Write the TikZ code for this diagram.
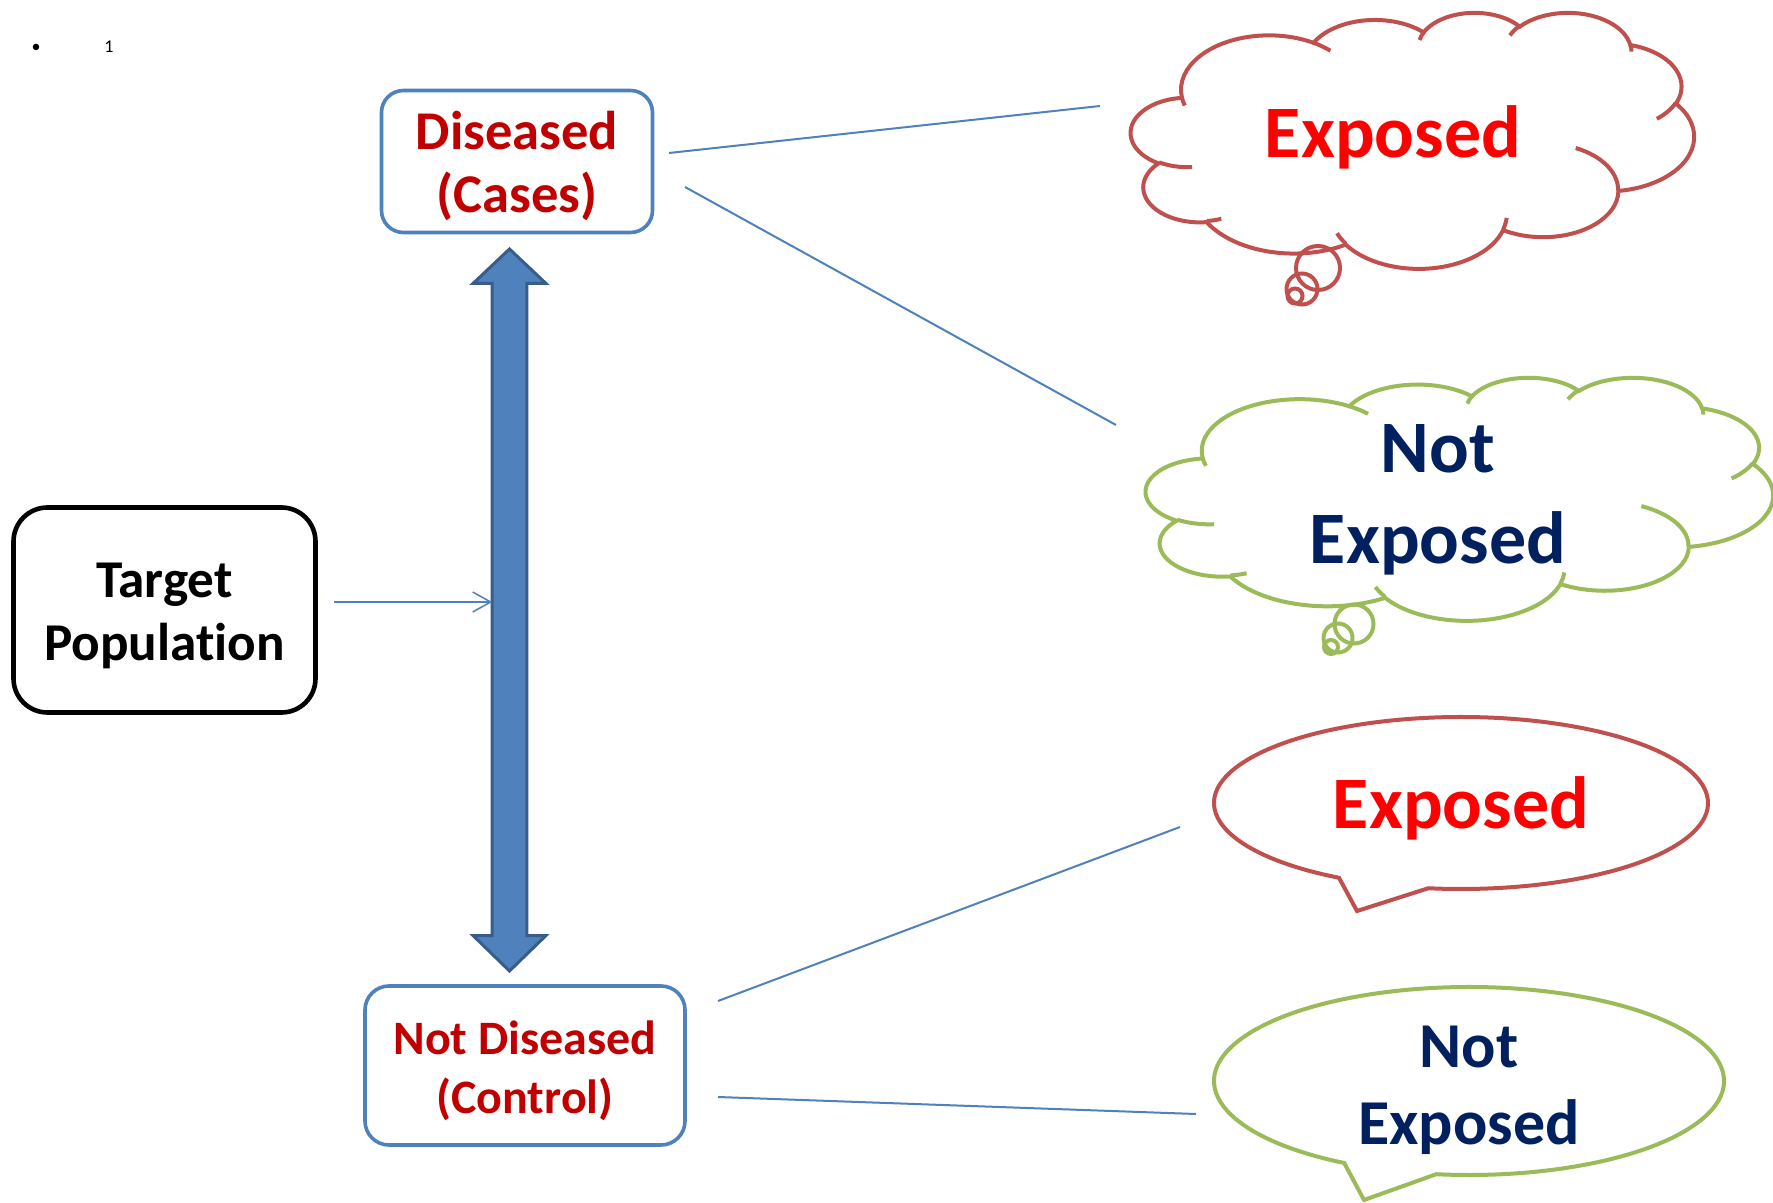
\documentclass[tikz,border=0pt]{standalone}
\usepackage{fontspec}
\setmainfont{Carlito}[Ligatures=NoCommon]
\usetikzlibrary{arrows.meta,calc}
\definecolor{cRed}{HTML}{C0504D}
\definecolor{cGreen}{HTML}{9BBB59}
\definecolor{cBlue}{HTML}{4F81BD}
\definecolor{cBlueDark}{HTML}{385D8A}
\definecolor{cNavy}{HTML}{002060}
\definecolor{cDarkRed}{HTML}{C00000}
\definecolor{cBright}{HTML}{FF0000}

% one DrawingML arcTo (radii in 1/10 of the 43200 grid, angles in degrees)
\newcommand\pptarc[4]{arc[start angle={pang(#3,#1,#2)},end angle={pang(#3,#1,#2)+mod(pang(#3+#4,#1,#2)-pang(#3,#1,#2)+720,360)},x radius={#1*\cSX},y radius={#2*\cSY}]}

% PowerPoint-like cloud: #1,#2 top-left, #3 width, #4 height, #5 colour
\newcommand\pptcloud[5]{%
  \pgfmathsetmacro\cSX{#3/4320}%
  \pgfmathsetmacro\cSY{#4/4320}%
  \begin{scope}[shift={(#1,#2)}]
    \draw[cloudline=#5, fill=white] ({390.0*\cSX},{1437.0*\cSY})
      \pptarc{675.3}{919.0}{-190.4875}{123.7805}
      \pptarc{533.3}{726.7}{-144.1024}{89.9452}
      \pptarc{436.5}{594.5}{-145.8079}{99.7230}
      \pptarc{485.7}{659.5}{-130.9861}{117.2417}
      \pptarc{533.3}{727.3}{-78.7089}{109.0269}
      \pptarc{677.5}{922.0}{-46.2673}{130.2690}
      \pptarc{578.5}{786.7}{0.6250}{114.0333}
      \pptarc{675.2}{921.5}{22.4516}{115.1726}
      \pptarc{772.0}{1054.3}{66.2426}{75.7110}
      \pptarc{436.0}{591.8}{-274.9421}{146.7356}
      \pptarc{434.5}{594.5}{-246.8285}{152.5189}
      -- cycle;
    \draw[cloudline=#5]
      ({469.3*\cSX},{2617.7*\cSY}) \pptarc{434.5}{594.5}{86.7420}{26.4295}
      ({692.8*\cSX},{3489.9*\cSY}) \pptarc{436.0}{591.8}{73.6105}{11.4475}
      ({1647.8*\cSX},{3909.0*\cSY}) \pptarc{675.2}{921.5}{137.6242}{14.0811}
      ({2882.7*\cSX},{3475.1*\cSY}) \pptarc{675.2}{921.5}{6.4533}{15.9984}
      ({3412.9*\cSX},{2295.4*\cSY}) \pptarc{578.5}{786.7}{-70.2924}{70.9174}
      ({4179.8*\cSX},{1535.4*\cSY}) \pptarc{533.3}{727.3}{30.3180}{27.7515}
      ({3832.4*\cSX},{542.6*\cSY}) \pptarc{485.7}{659.5}{-13.7443}{14.8589}
      ({2907.8*\cSX},{395.2*\cSY}) \pptarc{485.7}{659.5}{-149.1815}{18.1954}
      ({2214.1*\cSX},{472.0*\cSY}) \pptarc{436.5}{594.5}{-163.4943}{17.6864}
      ({1400.0*\cSX},{519.2*\cSY}) \pptarc{675.3}{919.0}{-66.7070}{12.3194}
      ({412.7*\cSX},{1578.9*\cSY}) \pptarc{675.3}{919.0}{157.6544}{11.8582};
  \end{scope}}

\begin{document}
\begin{tikzpicture}[x=0.5pt, y=-0.5pt,
  declare function={pang(\qa,\qb,\qc)=atan2(\qb*sin(\qa),\qc*cos(\qa));},
  cloudline/.style={draw=#1, line width=2pt},
  bubble/.style={draw=#1, line width=2pt, fill=white, line join=miter},
  tail/.style={draw=#1, line width=2pt},
  conn/.style={draw=cBlue, line width=1pt},
  bluebox/.style={draw=cBlue, line width=1.8pt, rounded corners=11pt, fill=white, inner sep=0pt},
  boxtxt/.style={text=cDarkRed, align=center, inner sep=0pt},
  bigtxt/.style={font=\bfseries\fontsize{37}{45.5}\selectfont, align=center, inner sep=0pt}]

\useasboundingbox (0,0) rectangle (1773,1203);
\fill[white] (0,0) rectangle (1773,1203);

% slide residue
\node[font=\fontsize{9}{11}\selectfont, inner sep=0pt] (num) at (72.5,47)
  {\makebox[0pt]{•}\hspace{36.5pt}\makebox[0pt]{1}};

% boxes
\node[draw=black, line width=2.3pt, rounded corners=17pt, minimum width=151pt,
  minimum height=102.5pt, inner sep=0pt] (tp) at (164.5,610) {};
\node[align=center, inner sep=0pt, font=\bfseries\fontsize{26.6}{31.5}\selectfont]
  (tpT) at (164.5,616) {Target\\Population};
\node[bluebox, minimum width=135.5pt, minimum height=71pt] (dis) at (517,161.5) {};
\node[boxtxt, font=\bfseries\fontsize{27.3}{31.5}\selectfont] (disT) at (517,166) {Diseased\\(Cases)};
\node[bluebox, minimum width=160pt, minimum height=79.5pt, rounded corners=12pt] (ndis) at (525,1065.5) {};
\node[boxtxt, font=\bfseries\fontsize{24}{29.5}\selectfont] (ndisT) at (525,1071) {Not Diseased\\(Control)};

% double arrow
\draw[fill=cBlue, draw=cBlueDark, line width=1.5pt, line join=miter]
  (509.5,249) -- (546,283.5) -- (526.8,283.5) -- (526.8,935.5) -- (546,935.5)
  -- (509.5,971) -- (473,935.5) -- (492.2,935.5) -- (492.2,283.5) -- (473,283.5) -- cycle;
\coordinate (shaftL) at (492.2,602);
\coordinate (tpout) at (334,602);
\draw[conn, line width=0.75pt, -{Straight Barb[length=9pt,width=10pt]}] (tpout) -- (shaftL);

% clouds
\pptcloud{1131}{12}{563}{256}{cRed}
\draw[tail=cRed] (1318,268) circle[radius=22];
\draw[tail=cRed] (1302,289) circle[radius=15.5];
\draw[tail=cRed] (1295,296) circle[radius=7.5];
\node[bigtxt, text=cBright] (c1t) at (1393,137) {Exposed};

\pptcloud{1146}{377}{627}{243}{cGreen}
\draw[tail=cGreen] (1354,624) circle[radius=19.5];
\draw[tail=cGreen] (1338,638) circle[radius=14.5];
\draw[tail=cGreen] (1331,647) circle[radius=7];
\node[bigtxt, text=cNavy, font=\bfseries\fontsize{37}{45.6}\selectfont] (c2t) at (1438,500) {Not\\Exposed};

% speech bubbles
\draw[bubble=cRed] ($(1461,803)+(119.6:247 and 86)$)
  arc[start angle=119.6, end angle=457.6, x radius=247, y radius=86] -- (1357,911) -- cycle;
\node[bigtxt, text=cBright] (b1t) at (1461,808) {Exposed};

\draw[bubble=cGreen] ($(1469,1081)+(119.3:255 and 94)$)
  arc[start angle=119.3, end angle=457.4, x radius=255, y radius=94] -- (1364,1200) -- cycle;
\node[bigtxt, text=cNavy, font=\bfseries\fontsize{32}{38.5}\selectfont] (b2t) at (1469,1090) {Not\\Exposed};

% connectors
\coordinate (d1) at (669,153);   \coordinate (e1) at (1100,106);
\coordinate (d2) at (685,187);   \coordinate (e2) at (1116,425);
\coordinate (n1) at (718,1001);  \coordinate (e3) at (1180,827);
\coordinate (n2) at (718,1097);  \coordinate (e4) at (1196,1114);
\draw[conn] (d1) -- (e1);
\draw[conn] (d2) -- (e2);
\draw[conn] (n1) -- (e3);
\draw[conn] (n2) -- (e4);
\end{tikzpicture}
\end{document}
